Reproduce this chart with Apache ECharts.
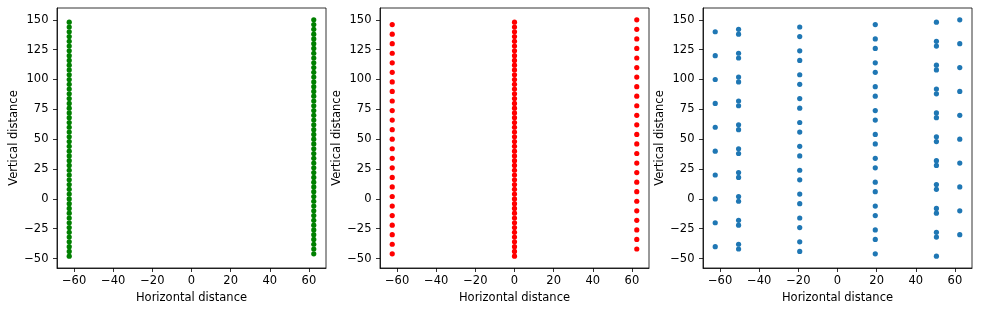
<!DOCTYPE html>
<html>
<head>
<meta charset="utf-8">
<script src="https://cdn.jsdelivr.net/npm/echarts@6/dist/echarts.min.js"></script>
<style>
html,body{margin:0;padding:0;background:#fff;}
#chart{width:981px;height:313px;}
</style>
</head>
<body>
<div id="chart"></div>
<script>
// ---- Data ----
const xTickValues = [-60, -40, -20, 0, 20, 40, 60];
const yTickValues = [-50, -25, 0, 25, 50, 75, 100, 125, 150];
const xAxisTitle = "Horizontal distance";
const yAxisTitle = "Vertical distance";

// Panel 1 (green): column x positions and y values of each column
const greenColumnX = [-62.5, 62.5];
const greenColumnY = [
  [-48,-44,-40,-36,-32,-28,-24,-20,-16,-12,-8,-4,0,4,8,12,16,20,24,28,32,36,40,44,48,52,56,60,64,68,72,76,80,84,88,92,96,100,104,108,112,116,120,124,128,132,136,140,144,148],
  [-46,-42,-38,-34,-30,-26,-22,-18,-14,-10,-6,-2,2,6,10,14,18,22,26,30,34,38,42,46,50,54,58,62,66,70,74,78,82,86,90,94,98,102,106,110,114,118,122,126,130,134,138,142,146,150]
];

// Panel 2 (red)
const redColumnX = [-62.5, 0, 62.5];
const redColumnY = [
  [-46,-38,-30,-22,-14,-6,2,10,18,26,34,42,50,58,66,74,82,90,98,106,114,122,130,138,146],
  [-48,-44,-40,-36,-32,-28,-24,-20,-16,-12,-8,-4,0,4,8,12,16,20,24,28,32,36,40,44,48,52,56,60,64,68,72,76,80,84,88,92,96,100,104,108,112,116,120,124,128,132,136,140,144,148],
  [-42,-34,-26,-18,-10,-2,6,14,22,30,38,46,54,62,70,78,86,94,102,110,118,126,134,142,150]
];

// Panel 3 (blue)
const blueColumnX = [-62.5, -50.56, -19.31, 19.31, 50.56, 62.5];
const blueColumnY = [
  [-40,-20,0,20,40,60,80,100,120,140],
  [-42,-38,-22,-18,-2,2,18,22,38,42,58,62,78,82,98,102,118,122,138,142],
  [-44,-36,-24,-16,-4,4,16,24,36,44,56,64,76,84,96,104,116,124,136,144],
  [-46,-34,-26,-14,-6,6,14,26,34,46,54,66,74,86,94,106,114,126,134,146],
  [-48,-32,-28,-12,-8,8,12,28,32,48,52,68,72,88,92,108,112,128,132,148],
  [-30,-10,10,30,50,70,90,110,130,150]
];

// ---- Chart construction ----
const panels = [
  { xs: greenColumnX, ys: greenColumnY, color: '#008000', left: 57 },
  { xs: redColumnX,   ys: redColumnY,   color: '#ff0000', left: 380 },
  { xs: blueColumnX,  ys: blueColumnY,  color: '#1f77b4', left: 703 }
];

const FONT = 'DejaVu Sans';
const FS = 11.5;
const fmt = v => String(v).replace('-', '\u2212');

const grids = [], xAxes = [], yAxes = [], series = [];
panels.forEach((p, i) => {
  grids.push({ left: p.left, top: 8, width: 269, height: 260, show: true,
    borderColor: '#000', borderWidth: 0.8, backgroundColor: 'transparent', containLabel: false });
  xAxes.push({
    type: 'value', gridIndex: i, min: -68.75, max: 68.75,
    name: xAxisTitle, nameLocation: 'middle', nameGap: 24,
    nameTextStyle: { fontFamily: FONT, fontSize: FS, color: '#000' },
    axisLine: { show: true, onZero: false, lineStyle: { color: '#000', width: 0.8 } },
    axisTick: { show: true, length: 4, customValues: xTickValues, lineStyle: { color: '#000', width: 0.8 } },
    axisLabel: { show: true, margin: 7.5, customValues: xTickValues, formatter: fmt,
      fontFamily: FONT, fontSize: FS, color: '#000' },
    splitLine: { show: false }
  });
  yAxes.push({
    type: 'value', gridIndex: i, min: -57.9, max: 159.9,
    name: yAxisTitle, nameLocation: 'middle', nameGap: 36, nameRotate: 90,
    nameTextStyle: { fontFamily: FONT, fontSize: FS, color: '#000' },
    axisLine: { show: true, onZero: false, lineStyle: { color: '#000', width: 0.8 } },
    axisTick: { show: true, length: 4, customValues: yTickValues, lineStyle: { color: '#000', width: 0.8 } },
    axisLabel: { show: true, margin: 8.5, customValues: yTickValues, formatter: fmt,
      fontFamily: FONT, fontSize: FS, color: '#000' },
    splitLine: { show: false }
  });
  p.xs.forEach((x, c) => {
    series.push({
      type: 'scatter', xAxisIndex: i, yAxisIndex: i,
      symbol: 'circle', symbolSize: 5.2,
      itemStyle: { color: p.color, opacity: 1 },
      emphasis: { disabled: true },
      data: p.ys[c].map(y => [x, y])
    });
  });
});

const chart = echarts.init(document.getElementById('chart'), null, { renderer: 'canvas' });
chart.setOption({
  animation: false,
  backgroundColor: '#fff',
  textStyle: { fontFamily: FONT },
  grid: grids, xAxis: xAxes, yAxis: yAxes, series: series
});
</script>
</body>
</html>
